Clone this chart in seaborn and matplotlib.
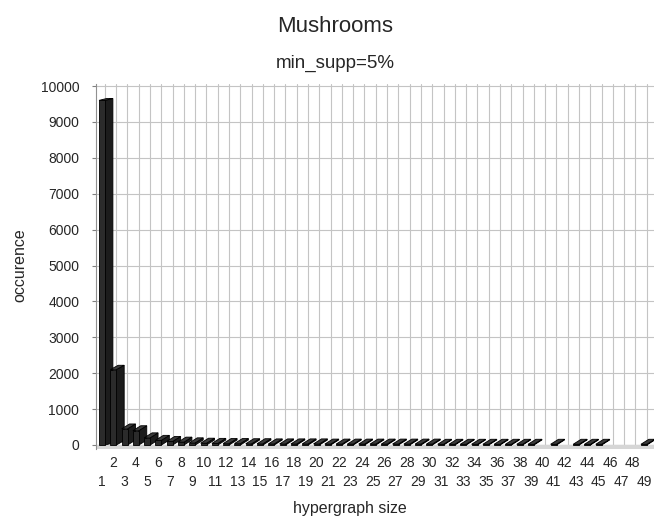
import numpy as np
import pandas as pd
import matplotlib
matplotlib.use("Agg")
import matplotlib.pyplot as plt
import seaborn as sns
from matplotlib.patches import Polygon

# ---------------- data ----------------
sizes = list(range(1, 50))
occurrence = [9600, 2100, 450, 400, 200, 130, 100, 80, 60, 50,
              45, 40, 40, 35, 35, 30, 30, 30, 30, 30,
              25, 25, 25, 25, 25, 25, 25, 25, 25, 25,
              20, 20, 20, 20, 20, 20, 20, 20, 20, 0,
              20, 0, 20, 20, 20, 0, 0, 0, 20]
yticks = list(range(0, 10001, 1000))
title = "Mushrooms"
subtitle = "min_supp=5%"
xlabel = "hypergraph size"
ylabel = "occurence"

# ---------------- style ----------------
sns.set_theme(style="white")
plt.rcParams['font.family'] = ['Liberation Sans', 'DejaVu Sans']

W, H = 654, 523
fig = plt.figure(figsize=(W / 100, H / 100), dpi=100)
L, R, B, T = 96, 654, 449, 84
ax = fig.add_axes([L / W, (H - B) / H, (R - L) / W, (B - T) / H])

labels = [str(s) for s in sizes]
df = pd.DataFrame({"size": labels, "occ": occurrence})
sns.barplot(data=df, x="size", y="occ", order=labels, color="#2b2b2b",
            saturation=1, width=0.53, edgecolor="black", linewidth=0.6, ax=ax)

# pseudo-3D faces derived from the drawn bars
dx = 0.7
for i, p in enumerate(list(ax.patches)):
    h = p.get_height()
    p.set_zorder(3 + 3 * i + 2)
    if h <= 0:
        p.set_visible(False)
        continue
    x0 = p.get_x()
    w = p.get_width()
    dy = 140 - 90 * h / 10000
    side = Polygon([(x0 + w, 0), (x0 + w + dx, dy), (x0 + w + dx, h + dy), (x0 + w, h)],
                   closed=True, facecolor="#1c1c1c", edgecolor="black", lw=0.6,
                   zorder=3 + 3 * i)
    top = Polygon([(x0, h), (x0 + dx, h + dy), (x0 + w + dx, h + dy), (x0 + w, h)],
                  closed=True, facecolor="#3a3a3a", edgecolor="black", lw=0.6,
                  zorder=3 + 3 * i + 1)
    ax.add_patch(side)
    ax.add_patch(top)

# axes ranges
px_per_unit = (445 - 86) / 10000
y_bottom = -(B - 445) / px_per_unit
y_top = 10000 + (86 - T) / px_per_unit
ax.set_ylim(y_bottom, y_top)
sp = 11.29
ax.set_xlim(-(102 - L) / sp, (R - 102) / sp)

# floor
ax.axhspan(y_bottom, 0, color="#d6d6d6", zorder=1.5)

# grid
ax.set_axisbelow(True)
ax.set_yticks(yticks)
ax.yaxis.grid(True, color="#c4c4c4", lw=0.8)
ax.set_xticks(np.arange(len(sizes)) + 0.25, minor=True)
ax.xaxis.grid(True, which="minor", color="#c4c4c4", lw=0.8)
ax.xaxis.grid(False, which="major")

# ticks
ax.set_xticks(range(len(sizes)))
ax.set_xticklabels(labels, fontsize=10)
ax.tick_params(axis="x", which="both", length=0)
for k, tk in enumerate(ax.xaxis.get_major_ticks()):
    tk.set_pad(5 if (k % 2 == 1) else 18.5)
ax.set_yticklabels([str(v) for v in yticks], fontsize=10)
ax.tick_params(axis="y", length=3, width=0.8, color="#808080", direction="out", pad=9, left=True)

for s in ["top", "right", "bottom"]:
    ax.spines[s].set_visible(False)
ax.spines["left"].set_color("#909090")
ax.spines["left"].set_linewidth(0.8)

ax.set_xlabel("")
ax.set_ylabel("")
fig.text(350 / W, 1 - 509 / H, xlabel, ha="center", va="center", fontsize=11.5)
fig.text(20 / W, 1 - 265 / H, ylabel, ha="center", va="center", rotation=90, fontsize=11.5)
fig.text(335 / W, 1 - 27 / H, title, ha="center", va="center", fontsize=16)
fig.text(335 / W, 1 - 63 / H, subtitle, ha="center", va="center", fontsize=13.5)

fig.savefig("out.png", dpi=100, facecolor="white")
